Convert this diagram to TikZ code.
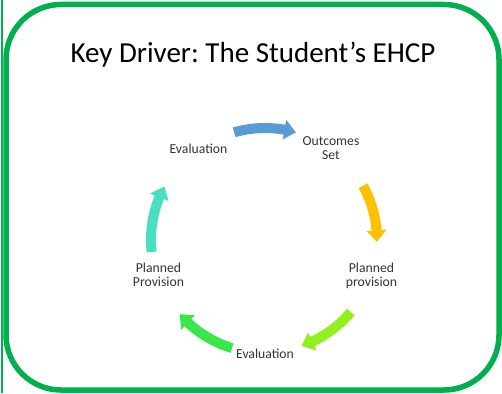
\documentclass[tikz,border=0pt]{standalone}
\usepackage{fontspec}
\setmainfont{Carlito}
\frenchspacing
\definecolor{framegreen}{HTML}{00B050}
\definecolor{arrblue}{HTML}{5B9BD5}
\definecolor{arrgold}{HTML}{FFC000}
\definecolor{arrlime}{HTML}{92F01E}
\definecolor{arrgreen}{HTML}{38E84A}
\definecolor{arrteal}{HTML}{4ADFC2}
\definecolor{labelgray}{HTML}{333333}
\newcommand\cyclearrow[4]{%
  \pgfmathsetmacro\ahd{#3+6}%
  \fill[#1, shift={(265,153)}] (#2:#4+5) arc[start angle=#2, end angle=\ahd, radius=#4+5]
    -- (\ahd:#4+10) -- (#3:#4) -- (\ahd:#4-10) -- (\ahd:#4-5)
    arc[start angle=\ahd, end angle=#2, radius=#4-5] -- cycle;}
\begin{document}
\begin{tikzpicture}[x=1pt,y=1pt,
  frame/.style={draw=framegreen, line width=5.5pt, rounded corners=55pt},
  lbl/.style={font=\fontsize{13.7}{14}\selectfont, text=labelgray, align=center, inner sep=0pt},
  titlestyle/.style={font=\fontsize{29}{32}\selectfont, inner sep=0pt}]
\useasboundingbox (0,0) rectangle (502,393);
\draw[framegreen, line width=2pt] (1.5,0) -- (1.5,393);
\draw[frame] (6,388.5) rectangle (499,3);
\node[titlestyle, anchor=base] (title) at (253,330) {Key Driver: The Student’s EHCP};
\node[lbl, anchor=base] (evaltop) at (198.5,239) {Evaluation};
\node[lbl, anchor=base] (outcomes) at (331,233) {Outcomes\\Set};
\node[lbl, anchor=base] (planleft) at (158.5,106) {Planned\\Provision};
\node[lbl, anchor=base] (planright) at (371.5,106) {Planned\\provision};
\node[lbl, anchor=base] (evalbottom) at (265,35) {Evaluation};
\cyclearrow{arrblue}{106}{74}{112}
\cyclearrow{arrgold}{29}{-1}{112}
\cyclearrow{arrlime}{-40}{-71}{112}
\cyclearrow{arrgreen}{-107}{-139}{113}
\cyclearrow{arrteal}{186}{152}{114}
\end{tikzpicture}
\end{document}
